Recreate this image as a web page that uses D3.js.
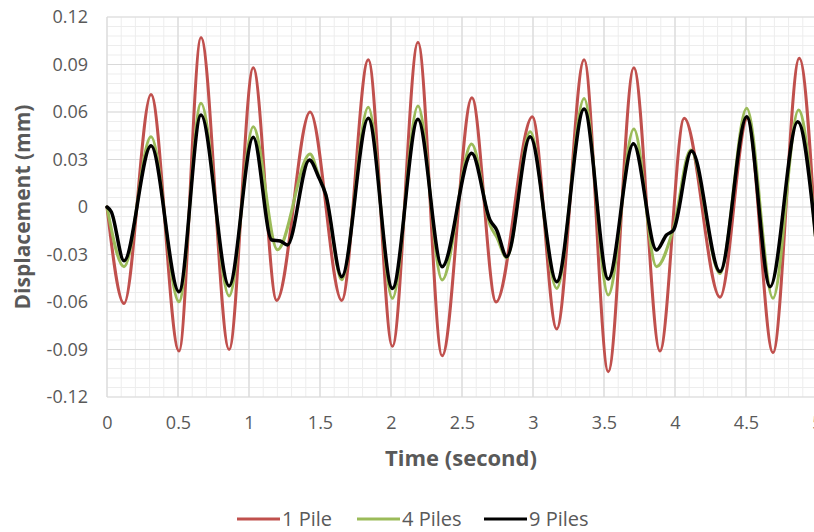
<!DOCTYPE html>
<html>
<head>
<meta charset="utf-8">
<script src="https://cdn.jsdelivr.net/npm/d3@7"></script>
<style>
  html, body { margin: 0; padding: 0; background: #fff; }
  svg { display: block; }
  text { font-family: "Open Sans", "DejaVu Sans", sans-serif; fill: #595959; }
</style>
</head>
<body>
<svg id="chart" width="814" height="532"></svg>
<script>
// ---- Data ----
const seriesNames = ["1 Pile", "4 Piles", "9 Piles"];

const time1 = [0, 0.12, 0.31, 0.507, 0.662, 0.86, 1.03, 1.195, 1.43, 1.653, 1.84, 2.01, 2.19, 2.36, 2.57, 2.74, 2.995, 3.167, 3.36, 3.53, 3.71, 3.894, 4.065, 4.317, 4.51, 4.69, 4.875, 5.0];
const pile1 = [0, -0.061, 0.071, -0.091, 0.107, -0.090, 0.088, -0.059, 0.060, -0.059, 0.093, -0.088, 0.104, -0.094, 0.069, -0.060, 0.057, -0.077, 0.093, -0.104, 0.088, -0.091, 0.056, -0.057, 0.056, -0.092, 0.094, -0.035];

const time4 = [0, 0.12, 0.31, 0.507, 0.662, 0.86, 1.03, 1.2, 1.43, 1.49, 1.54, 1.653, 1.84, 2.01, 2.19, 2.36, 2.568, 2.70, 2.744, 2.815, 2.98, 3.167, 3.36, 3.53, 3.71, 3.87, 3.99, 4.11, 4.317, 4.505, 4.69, 4.87, 5.0];
const pile4 = [0, -0.0377, 0.0444, -0.0598, 0.0655, -0.0562, 0.0507, -0.027, 0.0335, 0.020, 0.008, -0.046, 0.063, -0.0577, 0.0638, -0.0461, 0.0398, -0.012, -0.019, -0.032, 0.0476, -0.0514, 0.0686, -0.0556, 0.0493, -0.0377, -0.013, 0.036, -0.042, 0.0623, -0.0577, 0.0613, -0.030];

const time9 = [0, 0.03, 0.12, 0.31, 0.507, 0.662, 0.86, 1.03, 1.16, 1.22, 1.27, 1.425, 1.49, 1.54, 1.653, 1.84, 2.01, 2.19, 2.36, 2.568, 2.697, 2.744, 2.815, 2.98, 3.167, 3.36, 3.53, 3.707, 3.87, 3.94, 3.99, 4.117, 4.317, 4.505, 4.67, 4.864, 5.0];
const pile9 = [0, -0.003, -0.034, 0.0387, -0.0535, 0.0581, -0.0499, 0.044, -0.0208, -0.0215, -0.024, 0.0297, 0.019, 0.008, -0.044, 0.056, -0.0514, 0.0554, -0.0377, 0.034, -0.0082, -0.0145, -0.0314, 0.0444, -0.0472, 0.0619, -0.0455, 0.040, -0.0272, -0.0177, -0.0145, 0.0354, -0.0408, 0.057, -0.0503, 0.0539, -0.027];

const xTicks = [0, 0.5, 1, 1.5, 2, 2.5, 3, 3.5, 4, 4.5, 5];
const xTickLabels = ["0", "0.5", "1", "1.5", "2", "2.5", "3", "3.5", "4", "4.5", "5"];
const yTicks = [-0.12, -0.09, -0.06, -0.03, 0, 0.03, 0.06, 0.09, 0.12];
const yTickLabels = ["-0.12", "-0.09", "-0.06", "-0.03", "0", "0.03", "0.06", "0.09", "0.12"];
const xTitle = "Time (second)";
const yTitle = "Displacement (mm)";
const colors = ["#C0504D", "#9BBB59", "#000000"];

(function draw() {
  const svg = d3.select("#chart");
  const pL = 107, pR = 817, pT = 17, pB = 397;

  const x = d3.scaleLinear().domain([0, 5]).range([pL, pR]);
  const y = d3.scaleLinear().domain([-0.12, 0.12]).range([pB, pT]);

  const xMinor = d3.range(0, 51, 1).map(d => d / 10);
  const yMinor = d3.range(-20, 21, 1).map(d => d * 0.006);

  const grid = svg.append("g");
  grid.selectAll("line.xm").data(xMinor).enter().append("line")
    .attr("x1", d => x(d)).attr("x2", d => x(d))
    .attr("y1", pT).attr("y2", pB)
    .attr("stroke", "#EDEDED").attr("stroke-width", 1);
  grid.selectAll("line.ym").data(yMinor).enter().append("line")
    .attr("x1", pL).attr("x2", pR)
    .attr("y1", d => y(d)).attr("y2", d => y(d))
    .attr("stroke", "#EDEDED").attr("stroke-width", 1);
  grid.selectAll("line.xM").data(xTicks).enter().append("line")
    .attr("x1", d => x(d)).attr("x2", d => x(d))
    .attr("y1", pT).attr("y2", pB)
    .attr("stroke", "#D9D9D9").attr("stroke-width", 1.2);
  grid.selectAll("line.yM").data(yTicks).enter().append("line")
    .attr("x1", pL).attr("x2", pR)
    .attr("y1", d => y(d)).attr("y2", d => y(d))
    .attr("stroke", "#D9D9D9").attr("stroke-width", 1.2);

  const xAxis = d3.axisBottom(x).tickValues(xTicks)
    .tickFormat((d, i) => xTickLabels[i]).tickSize(0).tickPadding(19);
  const gx = svg.append("g").attr("transform", `translate(0,${pB})`).call(xAxis);
  gx.select(".domain").remove();
  gx.selectAll("text").style("font-size", "18px").style("fill", "#595959")
    .style("font-family", '"Open Sans", sans-serif');

  const yAxis = d3.axisLeft(y).tickValues(yTicks)
    .tickFormat((d, i) => yTickLabels[i]).tickSize(0).tickPadding(19);
  const gy = svg.append("g").attr("transform", `translate(${pL},0)`).call(yAxis);
  gy.select(".domain").remove();
  gy.selectAll("text").style("font-size", "18px").style("fill", "#595959")
    .style("font-family", '"Open Sans", sans-serif');

  svg.append("text").attr("x", 461).attr("y", 466).attr("text-anchor", "middle")
    .style("font-size", "22px").style("font-weight", "bold").text(xTitle);
  svg.append("text").attr("transform", "translate(30,207) rotate(-90)")
    .attr("text-anchor", "middle")
    .style("font-size", "21px").style("font-weight", "bold").text(yTitle);

  const line = d3.line().x(d => x(d[0])).y(d => y(d[1])).curve(d3.curveMonotoneX);
  const series = [
    { name: seriesNames[0], t: time1, v: pile1, color: colors[0], w: 3 },
    { name: seriesNames[1], t: time4, v: pile4, color: colors[1], w: 3 },
    { name: seriesNames[2], t: time9, v: pile9, color: colors[2], w: 3.5 }
  ];
  const lg = svg.append("g");
  series.forEach(s => {
    lg.append("path")
      .datum(s.t.map((t, i) => [t, s.v[i]]))
      .attr("fill", "none")
      .attr("stroke", s.color)
      .attr("stroke-width", s.w)
      .attr("stroke-linejoin", "round")
      .attr("stroke-linecap", "round")
      .attr("d", line);
  });

  const legendX = [237, 357, 484];
  const legend = svg.append("g");
  series.forEach((s, i) => {
    const g = legend.append("g").attr("transform", `translate(${legendX[i]},519)`);
    g.append("line").attr("x1", 0).attr("x2", 43).attr("y1", 0).attr("y2", 0)
      .attr("stroke", s.color).attr("stroke-width", 3);
    g.append("text").attr("x", 45).attr("y", 0).attr("dy", "0.35em")
      .style("font-size", "20px").text(s.name);
  });
})();
</script>
</body>
</html>
